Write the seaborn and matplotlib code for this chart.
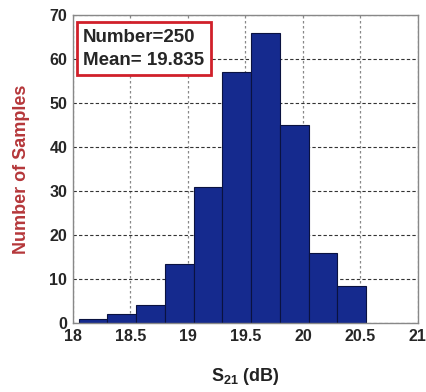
import seaborn as sns
import matplotlib.pyplot as plt
import pandas as pd

# histogram
bin_edges = [18.05, 18.3, 18.55, 18.8, 19.05, 19.3, 19.55, 19.8, 20.05, 20.3, 20.55]
counts = [1, 2, 4, 13.4, 31, 57, 66, 45, 16, 8.3]
x_ticks = [18, 18.5, 19, 19.5, 20, 20.5, 21]
y_ticks = [0, 10, 20, 30, 40, 50, 60, 70]

centers = [(a + b) / 2 for a, b in zip(bin_edges[:-1], bin_edges[1:])]
df = pd.DataFrame({"s21": centers, "n": counts})

sns.set_style("white")
plt.rcParams["font.family"] = ["Liberation Sans", "DejaVu Sans"]
plt.rcParams["mathtext.fontset"] = "custom"
plt.rcParams["mathtext.bf"] = "Liberation Sans:bold"
plt.rcParams["mathtext.rm"] = "Liberation Sans:bold"

fig = plt.figure(figsize=(4.26, 3.92), dpi=100)
ax = fig.add_axes([0.171, 0.176, 0.81, 0.786])

sns.histplot(data=df, x="s21", weights="n", bins=bin_edges, ax=ax,
             color="#152a8e", edgecolor="#0a1240", linewidth=0.8, alpha=1)

ax.set_xlim(18, 21)
ax.set_ylim(0, 70)
ax.set_xticks(x_ticks)
ax.set_xticklabels(["18", "18.5", "19", "19.5", "20", "20.5", "21"])
ax.set_yticks(y_ticks)
ax.set_axisbelow(True)
ax.xaxis.grid(True, linestyle=(0, (2, 2)), color="#888888", linewidth=0.9)
ax.yaxis.grid(True, linestyle=(0, (3, 2)), color="#333333", linewidth=0.8)

for s in ax.spines.values():
    s.set_color("#888888")
    s.set_linewidth(1)

ax.tick_params(axis="both", direction="in", length=3, color="#555555",
               labelsize=11.5, pad=4)
for lab in ax.get_xticklabels() + ax.get_yticklabels():
    lab.set_fontweight("bold")

ax.set_xlabel(r"S$_{\mathregular{21}}$ (dB)", fontsize=13, fontweight="bold",
              labelpad=16, color="#222222")
ax.set_ylabel("Number of Samples", fontsize=13, fontweight="bold",
              color="#b5373a", labelpad=14)

ax.text(0.03, 0.955, "Number=250\nMean= 19.835", transform=ax.transAxes,
        ha="left", va="top", fontsize=13.5, fontweight="bold",
        linespacing=1.45,
        bbox=dict(boxstyle="square,pad=0.35", facecolor="white",
                  edgecolor="#d0202a", linewidth=2))

fig.savefig("out.png", dpi=100)
